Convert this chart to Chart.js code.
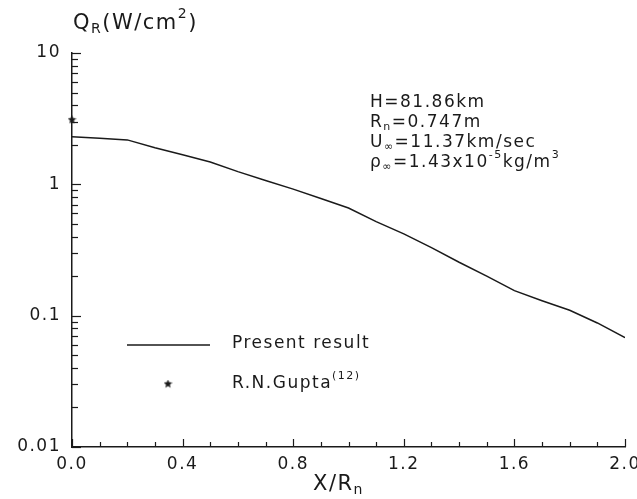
<!DOCTYPE html>
<html>
<head>
<meta charset="utf-8">
<script src="https://cdn.jsdelivr.net/npm/chart.js@4"></script>
<style>
html,body{margin:0;padding:0;background:#fff;}
#wrap{width:637px;height:499px;}
</style>
</head>
<body>
<div id="wrap"><canvas id="c" width="637" height="499"></canvas></div>
<script>
// ---- data ----
const xValues = [0.0,0.1,0.2,0.3,0.4,0.5,0.6,0.7,0.8,0.9,1.0,1.1,1.2,1.3,1.4,1.5,1.6,1.7,1.8,1.9,2.0];
const presentResult = [2.30,2.24,2.18,1.90,1.68,1.48,1.25,1.07,0.92,0.78,0.66,0.52,0.42,0.33,0.255,0.20,0.155,0.13,0.11,0.088,0.068];
const guptaX = [0.0];
const guptaY = [3.1];
const yTickLabels = {10:'10',1:'1',0.1:'0.1',0.01:'0.01'};
const xMinorStep = 0.1;

const FONT = "'DejaVu Sans', sans-serif";
const INK = '#1a1a1a';

// filled star point image
function makeStar(size){
  const c = document.createElement('canvas');
  c.width = size; c.height = size;
  const g = c.getContext('2d');
  const cx = size/2, cy = size/2, R = size/2, r = R*0.45;
  g.beginPath();
  for(let i=0;i<10;i++){
    const a = -Math.PI/2 + i*Math.PI/5;
    const rr = i%2===0 ? R : r;
    g.lineTo(cx + rr*Math.cos(a), cy + rr*Math.sin(a));
  }
  g.closePath();
  g.fillStyle = INK; g.fill();
  return c;
}
const starImg = makeStar(9);

function drawRich(ctx, parts, x, y, align, base){
  base = base || 17;
  const sizes = {n:base, sub:Math.round(base*0.65), sup:Math.round(base*0.65)};
  const offs = {n:0, sub:base*0.25, sup:-base*0.47};
  let total = 0;
  parts.forEach(p=>{ ctx.font = sizes[p[1]]+'px '+FONT; total += ctx.measureText(p[0]).width; });
  let cx = align==='center' ? x - total/2 : x;
  ctx.textAlign = 'left';
  ctx.textBaseline = 'middle';
  parts.forEach(p=>{
    ctx.font = sizes[p[1]]+'px '+FONT;
    ctx.fillText(p[0], cx, y + offs[p[1]]);
    cx += ctx.measureText(p[0]).width;
  });
}

const decorPlugin = {
  id:'decor',
  beforeDraw(chart){
    chart.ctx.letterSpacing = '1.5px';
  },
  afterDraw(chart){
    const ctx = chart.ctx;
    const xs = chart.scales.x, ys = chart.scales.y;
    const area = chart.chartArea;
    ctx.save();
    ctx.letterSpacing = '1.5px';
    ctx.strokeStyle = INK;
    ctx.lineWidth = 1.2;
    // inward x ticks
    for(let i=0;i<=Math.round((xs.max-xs.min)/xMinorStep);i++){
      const v = xs.min + i*xMinorStep;
      const px = Math.round(xs.getPixelForValue(v))+0.5;
      const len = (i%4===0) ? 8 : 5;
      ctx.beginPath(); ctx.moveTo(px, area.bottom); ctx.lineTo(px, area.bottom-len); ctx.stroke();
    }
    // inward y ticks (log)
    for(let e=-2;e<=1;e++){
      for(let m=1;m<=9;m++){
        const v = m*Math.pow(10,e);
        if(v<ys.min-1e-12 || v>ys.max+1e-9) continue;
        const py = Math.round(ys.getPixelForValue(v))+0.5;
        const len = m===1 ? 9 : 6;
        ctx.beginPath(); ctx.moveTo(area.left, py); ctx.lineTo(area.left+len, py); ctx.stroke();
      }
    }
    ctx.fillStyle = INK;
    // y axis title
    drawRich(ctx, [['Q','n'],['R','sub'],['(W/cm','n'],['2','sup'],[')','n']], 73, 24, 'left', 21);
    // x axis title
    drawRich(ctx, [['X/R','n'],['n','sub']], (area.left+area.right)/2 - 10, 485, 'center', 21);
    // annotation block
    drawRich(ctx, [['H=81.86km','n']], 370, 103, 'left');
    drawRich(ctx, [['R','n'],['n','sub'],['=0.747m','n']], 370, 123, 'left');
    drawRich(ctx, [['U','n'],['\u221E','sub'],['=11.37km/sec','n']], 370, 143, 'left');
    drawRich(ctx, [['\u03C1','n'],['\u221E','sub'],['=1.43x10','n'],['-5','sup'],['kg/m','n'],['3','sup']], 370, 163, 'left');
    // legend
    ctx.lineWidth = 1.5;
    ctx.beginPath(); ctx.moveTo(127, 345); ctx.lineTo(210, 345); ctx.stroke();
    drawRich(ctx, [['Present result','n']], 232, 344, 'left');
    ctx.drawImage(starImg, 168-4.5, 384-4.5);
    drawRich(ctx, [['R.N.Gupta','n'],['(12)','sup']], 232, 384, 'left');
    ctx.restore();
  }
};

const lineData = xValues.map((x,i)=>({x:x, y:presentResult[i]}));
const guptaData = guptaX.map((x,i)=>({x:x, y:guptaY[i]}));

new Chart(document.getElementById('c'), {
  type:'line',
  data:{
    datasets:[
      {label:'Present result', data:lineData, borderColor:INK, borderWidth:1.5, pointRadius:0, tension:0, fill:false},
      {label:'R.N.Gupta', type:'scatter', data:guptaData, pointStyle:starImg, pointRadius:5, showLine:false, clip:false}
    ]
  },
  options:{
    responsive:false,
    animation:false,
    devicePixelRatio:1,
    layout:{padding:{left:0,right:12,top:53,bottom:0}},
    plugins:{legend:{display:false}, tooltip:{enabled:false}},
    scales:{
      x:{
        type:'linear', min:0, max:2,
        grid:{display:false, drawTicks:false},
        border:{display:true, color:INK, width:1.5},
        ticks:{stepSize:0.4, padding:7, color:INK, font:{family:FONT, size:17}, maxRotation:0,
          callback:(v)=>Number(v).toFixed(1)},
        afterFit:(s)=>{ s.height = 52; s.paddingLeft = 0; s.paddingRight = 0; }
      },
      y:{
        type:'logarithmic', min:0.01, max:10,
        grid:{display:false, drawTicks:false},
        border:{display:true, color:INK, width:1.5},
        ticks:{autoSkip:false, padding:11, color:INK, font:{family:FONT, size:17},
          callback:(v)=>{ for(const k in yTickLabels){ if(Math.abs(v-Number(k))<1e-9*Number(k)) return yTickLabels[k]; } return ''; }},
        afterFit:(s)=>{ s.width = 72; s.paddingTop = 0; s.paddingBottom = 0; }
      }
    }
  },
  plugins:[decorPlugin]
});
</script>
</body>
</html>
